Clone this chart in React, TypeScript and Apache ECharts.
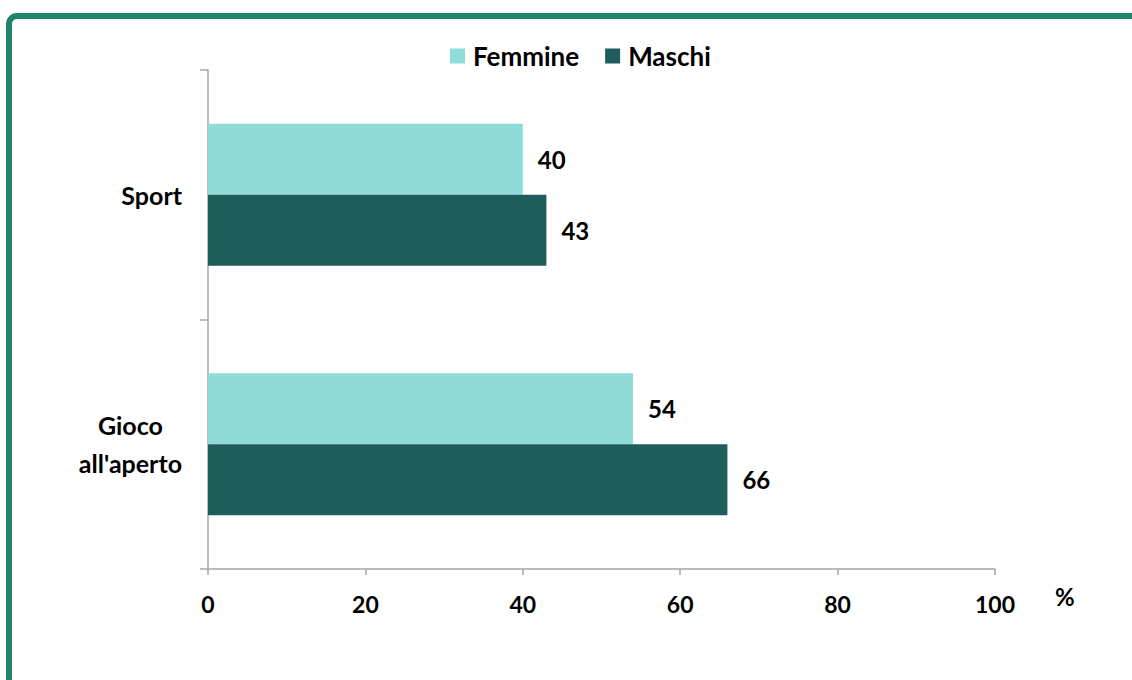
import React, { useEffect, useRef } from "react";
import * as echarts from "echarts";

const categories = ["Sport", "Gioco\nall'aperto"];
const seriesNames = ["Femmine", "Maschi"];
const femmine = [40, 54];
const maschi = [43, 66];
const xTicks = { min: 0, max: 100, interval: 20 };

const FONT = "Lato, 'Open Sans', sans-serif";

export default function App() {
  const ref = useRef<HTMLDivElement>(null);
  useEffect(() => {
    if (!ref.current) return;
    const chart = echarts.init(ref.current, undefined, { renderer: "svg" });
    const labelStyle = {
      show: true,
      position: "right" as const,
      distance: 15,
      fontSize: 24,
      fontWeight: "bold" as const,
      color: "#000",
      fontFamily: FONT,
    };
    chart.setOption({
      animation: false,
      textStyle: { fontFamily: FONT },
      graphic: [
        {
          type: "rect",
          shape: { x: 9, y: 16, width: 1300, height: 900, r: 8 },
          style: { fill: "none", stroke: "#21836b", lineWidth: 6 },
          silent: true,
        },
      ],
      legend: {
        top: 38,
        left: 445,
        itemWidth: 15,
        itemHeight: 15,
        itemGap: 26,
        icon: "rect",
        data: seriesNames,
        textStyle: { fontSize: 26, fontWeight: "bold", color: "#000", fontFamily: FONT, padding: [0, 0, 0, 3] },
      },
      grid: { left: 208, right: 137, top: 70, bottom: 111 },
      xAxis: {
        type: "value",
        min: xTicks.min,
        max: xTicks.max,
        interval: xTicks.interval,
        splitLine: { show: false },
        axisLine: { show: true, lineStyle: { color: "#a6a6a6", width: 1.5 } },
        axisTick: { show: true, length: 6, lineStyle: { color: "#a6a6a6", width: 1.5 } },
        axisLabel: { margin: 23, fontSize: 23, fontWeight: "bold", color: "#000", fontFamily: FONT },
        name: "%",
        nameLocation: "end",
        nameGap: 60,
        nameTextStyle: {
          fontSize: 24,
          fontWeight: "bold",
          color: "#000",
          fontFamily: FONT,
          verticalAlign: "top",
          padding: [15, 0, 0, 0],
        },
      },
      yAxis: {
        type: "category",
        inverse: true,
        data: categories,
        axisLine: { show: true, lineStyle: { color: "#a6a6a6", width: 1.5 } },
        axisTick: { show: true, length: 8, lineStyle: { color: "#a6a6a6", width: 1.5 } },
        axisLabel: {
          margin: 26,
          color: "#000",
          formatter: (v: string) =>
            v
              .split("\n")
              .map((l) => `{c|${l}}`)
              .join("\n"),
          rich: {
            c: {
              align: "center",
              fontSize: 25,
              fontWeight: "bold",
              color: "#000",
              fontFamily: FONT,
              lineHeight: 38,
            },
          },
        },
      },
      series: [
        {
          name: seriesNames[0],
          type: "bar",
          data: femmine,
          barGap: "0%",
          barCategoryGap: "43%",
          itemStyle: { color: "#8fdcd9" },
          label: labelStyle,
        },
        {
          name: seriesNames[1],
          type: "bar",
          data: maschi,
          barGap: "0%",
          barCategoryGap: "43%",
          itemStyle: { color: "#1f5c5c" },
          label: labelStyle,
        },
      ],
    });
    return () => chart.dispose();
  }, []);
  return (
    <div
      ref={ref}
      style={{ position: "fixed", left: 0, top: 0, width: 1132, height: 680, background: "#fff" }}
    />
  );
}
